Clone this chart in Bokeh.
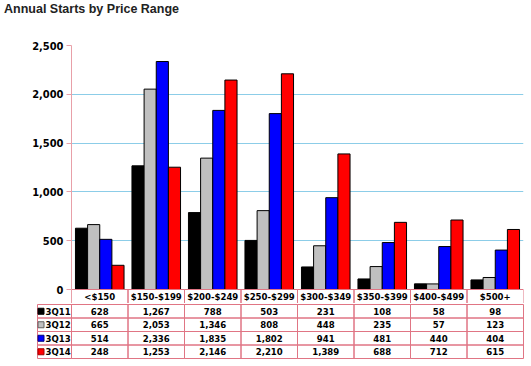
from bokeh.plotting import figure
from bokeh.models import FactorRange, Range1d, FixedTicker, NumeralTickFormatter, ColumnDataSource, Div
from bokeh.transform import dodge
from bokeh.embed import file_html
from bokeh.resources import INLINE
from bokeh.core.properties import value

# ---------------- data ----------------
title_text = "Annual Starts by Price Range"
categories = ["<$150", "$150-$199", "$200-$249", "$250-$299",
              "$300-$349", "$350-$399", "$400-$499", "$500+"]
series_names = ["3Q11", "3Q12", "3Q13", "3Q14"]
s3q11 = [628, 1267, 788, 503, 231, 108, 58, 98]
s3q12 = [665, 2053, 1346, 808, 448, 235, 57, 123]
s3q13 = [514, 2336, 1835, 1802, 941, 481, 440, 404]
s3q14 = [248, 1253, 2146, 2210, 1389, 688, 712, 615]
y_ticks = [0, 500, 1000, 1500, 2000, 2500]

# ---------------- styles / layout ----------------
colors = ["#000000", "#C0C0C0", "#0000FF", "#FF0000"]
edge_colors = ["#000000", "#606060", "#00007F", "#A00000"]
PINK_AXIS = "#E8A0A8"
PINK_TABLE = "#E07584"
GRID_BLUE = "#8CCDE8"
FONT = "DejaVu Sans Condensed"
TITLE_FONT = "Liberation Sans"
TABLE_FS = "9.5px"

series = [s3q11, s3q12, s3q13, s3q14]
ncat = len(categories)
YMAX = y_ticks[-1]
CAT_PX = 56.5           # one category, pixels
PLOT_PX = 244           # 0 .. YMAX, pixels
HEADER_PX = 14          # header row of the table
ROW_PX = 13.5           # data rows of the table
LEG_PX = 34             # legend column of the table
FRAME_LEFT = 71
FRAME_TOP = 45
TITLE_H = 18
u_per_px = YMAX / PLOT_PX
frame_h = PLOT_PX + HEADER_PX
total_w = FRAME_LEFT + int(ncat * CAT_PX) + 1

# ---------------- title ----------------
title = Div(text=title_text, width=total_w, height=TITLE_H,
            styles={"font-family": TITLE_FONT, "font-weight": "bold", "font-size": "12.5px",
                    "color": "#222222", "padding-left": "4px", "padding-top": "2px",
                    "line-height": "1.15", "margin": "0", "box-sizing": "border-box"})

# ---------------- chart (with table header row) ----------------
src = ColumnDataSource(dict(cat=categories, **{n: v for n, v in zip(series_names, series)}))

top = figure(x_range=FactorRange(*categories, range_padding=0),
             y_range=Range1d(-HEADER_PX * u_per_px, YMAX),
             width=total_w,
             height=FRAME_TOP - TITLE_H + frame_h,
             min_border_left=FRAME_LEFT, min_border_right=1,
             min_border_top=FRAME_TOP - TITLE_H, min_border_bottom=0,
             x_axis_location=None,
             output_backend="svg", toolbar_location=None)

bar_w = 0.215
offsets = [-1.5 * bar_w, -0.5 * bar_w, 0.5 * bar_w, 1.5 * bar_w]
for name, off, col in zip(series_names, offsets, colors):
    top.vbar(x=dodge("cat", off, range=top.x_range), top=name, width=bar_w, bottom=0,
             source=src, fill_color=col, line_color="black", line_width=1)

# header cells: bottom border falls outside the frame (drawn by the table below)
top.quad(left=dodge("cat", -0.5, range=top.x_range), right=dodge("cat", 0.5, range=top.x_range),
         top=0, bottom=-(HEADER_PX + 6) * u_per_px, source=src,
         fill_color=None, line_color=PINK_TABLE, line_width=1)
top.text(x="cat", y=-HEADER_PX * u_per_px / 2, text="cat", source=src,
         text_align="center", text_baseline="middle",
         text_font=value(FONT), text_font_style="bold", text_font_size=TABLE_FS,
         text_color="#000000")

ax = top.yaxis[0]
ax.ticker = FixedTicker(ticks=y_ticks)
ax.formatter = NumeralTickFormatter(format="0,0")
ax.axis_line_color = PINK_AXIS
ax.major_tick_line_color = PINK_AXIS
ax.major_tick_out = 5
ax.major_tick_in = 0
ax.minor_tick_line_color = None
ax.major_label_text_font = FONT
ax.major_label_text_font_style = "bold"
ax.major_label_text_font_size = "11px"
ax.major_label_text_color = "#000000"
ax.major_label_standoff = 3

top.xgrid.grid_line_color = None
top.ygrid.ticker = FixedTicker(ticks=y_ticks[1:])
top.ygrid.grid_line_color = GRID_BLUE
top.ygrid.grid_line_width = 1
top.outline_line_color = None

# ---------------- data table rows ----------------
leg_w = LEG_PX / CAT_PX
pad_x = 1 / CAT_PX
pad_y = 1 / ROW_PX
nser = len(series_names)

bot = figure(x_range=Range1d(-leg_w - pad_x, ncat + pad_x),
             y_range=Range1d(nser + 1 + pad_y, 1 - pad_y),
             width=total_w,
             height=int(round(nser * ROW_PX + 2)),
             min_border_left=FRAME_LEFT - LEG_PX - 1, min_border_right=0,
             min_border_top=0, min_border_bottom=0,
             x_axis_location=None, y_axis_location=None,
             output_backend="svg", toolbar_location=None)
bot.xgrid.grid_line_color = None
bot.ygrid.grid_line_color = None
bot.outline_line_color = None

lefts, rights, tops, bottoms = [], [], [], []
for r in range(1, nser + 1):
    lefts.append(-leg_w); rights.append(0); tops.append(r); bottoms.append(r + 1)
    for c in range(ncat):
        lefts.append(c); rights.append(c + 1); tops.append(r); bottoms.append(r + 1)
bot.quad(left=lefts, right=rights, top=tops, bottom=bottoms,
         fill_color=None, line_color=PINK_TABLE, line_width=1)

vx, vy, vt = [], [], []
for r, vals in enumerate(series, start=1):
    for c, v in enumerate(vals):
        vx.append(c + 0.5); vy.append(r + 0.5); vt.append(f"{v:,}")
bot.text(x=vx, y=vy, text=vt, text_align="center", text_baseline="middle",
         text_font=value(FONT), text_font_style="bold", text_font_size=TABLE_FS,
         text_color="#000000")

ry = [r + 0.5 for r in range(1, nser + 1)]
bot.scatter(x=[-leg_w + 3.5 / CAT_PX] * nser, y=ry, marker="square", size=6,
            fill_color=colors, line_color=edge_colors, line_width=1)
bot.text(x=[-leg_w + 8 / CAT_PX] * nser, y=ry, text=series_names,
         text_align="left", text_baseline="middle",
         text_font=value(FONT), text_font_style="bold", text_font_size=TABLE_FS,
         text_color="#000000")

open("out.html", "w").write(file_html([title, top, bot], INLINE))
